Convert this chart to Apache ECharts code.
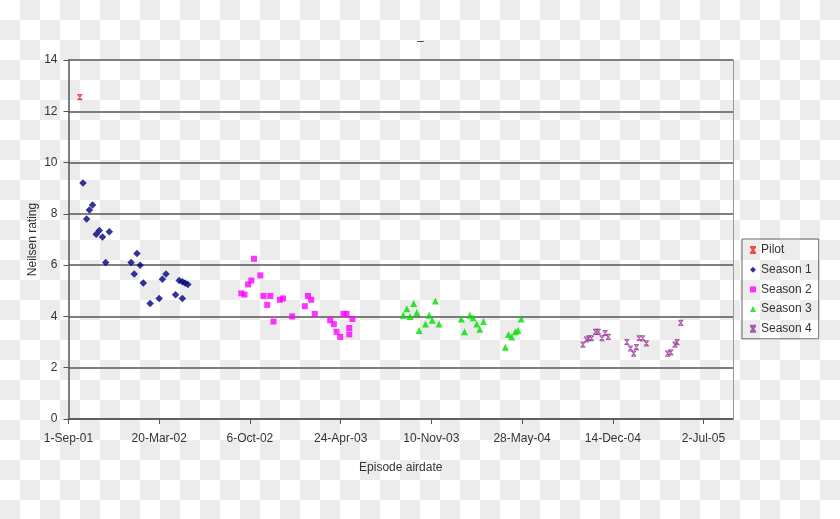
<!DOCTYPE html>
<html>
<head>
<meta charset="utf-8">
<script src="https://cdn.jsdelivr.net/npm/echarts@6/dist/echarts.min.js"></script>
<style>
  html, body { margin: 0; padding: 0; }
  body {
    width: 840px; height: 519px;
    background: repeating-conic-gradient(#ececec 0% 25%, #ffffff 0% 50%) 0 0 / 40px 40px;
  }
  #chart { width: 840px; height: 519px; }
</style>
</head>
<body>
<div id="chart"></div>
<script>
// ---- Data ----
const pilotDates = ['2001-09-26'];
const pilotRatings = [12.55];

const season1Dates = ['2001-10-03','2001-10-11','2001-10-17','2001-10-24','2001-11-01','2001-11-08','2001-11-15','2001-11-22','2001-11-30',
  '2002-01-17','2002-01-24','2002-01-30','2002-02-06','2002-02-13','2002-02-28','2002-03-20','2002-03-27','2002-04-04',
  '2002-04-25','2002-05-03','2002-05-10','2002-05-10','2002-05-16','2002-05-22'];
const season1Ratings = [9.2, 7.8, 8.15, 8.35, 7.2, 7.35, 7.1, 6.1, 7.3,
  6.1, 5.65, 6.45, 6.0, 5.3, 4.5, 4.7, 5.45, 5.65,
  4.85, 5.4, 4.7, 5.35, 5.3, 5.25];

const season2Dates = ['2002-09-17','2002-09-24','2002-10-02','2002-10-09','2002-10-15','2002-10-29','2002-11-05','2002-11-13','2002-11-20',
  '2002-11-27','2002-12-11','2002-12-18','2003-01-07','2003-02-04','2003-02-11','2003-02-18','2003-02-26','2003-04-01',
  '2003-04-09','2003-04-15','2003-04-23','2003-04-30','2003-05-07','2003-05-13','2003-05-13','2003-05-20'];
const season2Ratings = [4.9, 4.85, 5.25, 5.4, 6.25, 5.6, 4.8, 4.45, 4.8,
  3.8, 4.65, 4.7, 4.0, 4.4, 4.8, 4.65, 4.1, 3.85,
  3.7, 3.4, 3.2, 4.1, 4.1, 3.55, 3.3, 3.9];

const season3Dates = ['2003-09-09','2003-09-17','2003-09-24','2003-10-02','2003-10-09','2003-10-14','2003-10-28','2003-11-05','2003-11-12',
  '2003-11-19','2003-11-27','2004-01-15','2004-01-22','2004-02-03','2004-02-10','2004-02-18','2004-02-25','2004-03-04',
  '2004-04-21','2004-04-28','2004-05-05','2004-05-13','2004-05-19','2004-05-26'];
const season3Ratings = [4.05, 4.3, 4.0, 4.5, 4.15, 3.45, 3.7, 4.05, 3.85,
  4.6, 3.7, 3.9, 3.4, 4.05, 3.95, 3.7, 3.5, 3.8,
  2.8, 3.3, 3.2, 3.4, 3.45, 3.9];

const season4Dates = ['2004-10-09','2004-10-17','2004-10-22','2004-10-28','2004-11-06','2004-11-12','2004-11-20','2004-11-27','2004-12-04',
  '2005-01-14','2005-01-22','2005-01-29','2005-02-04','2005-02-10','2005-02-18','2005-02-26','2005-04-14','2005-04-21',
  '2005-04-30','2005-05-05','2005-05-13'];
const season4Ratings = [2.9, 3.1, 3.15, 3.15, 3.4, 3.4, 3.15, 3.35, 3.2,
  3.0, 2.75, 2.55, 2.8, 3.15, 3.15, 2.95, 2.55, 2.6,
  2.9, 3.0, 3.75];

const seriesNames = ['Pilot', 'Season 1', 'Season 2', 'Season 3', 'Season 4'];
const axisStartDate = '2001-09-01';
const axisEndDate = '2005-09-05';
const tickStepDays = 200;
const yTicks = [0, 2, 4, 6, 8, 10, 12, 14];

// ---- helpers ----
const DAY = 86400000;
function utc(s) { const p = s.split('-').map(Number); return Date.UTC(p[0], p[1] - 1, p[2]); }
const origin = utc(axisStartDate);
function dayOf(s) { return Math.round((utc(s) - origin) / DAY); }
const MONTHS = ['Jan','Feb','Mar','Apr','May','Jun','Jul','Aug','Sep','Oct','Nov','Dec'];
function fmt(v) {
  if (Math.round(v) % tickStepDays !== 0) return '';
  const d = new Date(origin + v * DAY);
  return d.getUTCDate() + '-' + MONTHS[d.getUTCMonth()] + '-' + String(d.getUTCFullYear()).slice(2);
}
function pts(dates, vals) { return dates.map((d, i) => [dayOf(d), vals[i]]); }

const xPath = 'path://M0,0 L10,0 M0,10 L10,10 M1,0 L9,10 M9,0 L1,10';

const chart = echarts.init(document.getElementById('chart'), null, { renderer: 'canvas' });
chart.setOption({
  backgroundColor: 'transparent',
  animation: false,
  textStyle: { fontFamily: 'Liberation Sans, Arial, sans-serif' },
  title: {
    text: '–', left: 412, top: 31,
    textStyle: { fontSize: 12, fontWeight: 'normal', color: '#333' }
  },
  grid: { left: 68.5, right: 107, top: 60, bottom: 100, containLabel: false },
  legend: {
    orient: 'vertical', left: 742, top: 239,
    padding: [4, 7, 3, 7],
    itemGap: 5.7, itemWidth: 6, itemHeight: 6,
    borderColor: '#666', borderWidth: 1,
    textStyle: { fontSize: 12, color: '#333', lineHeight: 14 },
    data: seriesNames
  },
  xAxis: {
    type: 'value', min: 0, max: dayOf(axisEndDate), interval: tickStepDays,
    name: 'Episode airdate', nameLocation: 'middle', nameGap: 43,
    nameTextStyle: { fontSize: 12, color: '#333' },
    axisLine: { show: true, onZero: false, lineStyle: { color: '#555', width: 1.5 } },
    axisTick: { show: true, length: 5, lineStyle: { color: '#555' } },
    axisLabel: { formatter: fmt, fontSize: 12, color: '#333', margin: 14, showMaxLabel: false },
    splitLine: { show: false }
  },
  yAxis: [{
    type: 'value', min: yTicks[0], max: yTicks[yTicks.length - 1], interval: 2,
    name: 'Neilsen rating', nameLocation: 'middle', nameGap: 30, nameMoveOverlap: false,
    nameTextStyle: { fontSize: 12, color: '#333' },
    axisLine: { show: true, lineStyle: { color: '#555', width: 1.5 } },
    axisTick: { show: true, length: 5, lineStyle: { color: '#555' } },
    axisLabel: { fontSize: 12, color: '#333', margin: 11 },
    splitLine: { show: true, lineStyle: { color: '#555', width: 1.5 } }
  }, {
    type: 'value', position: 'right', min: 0, max: 14, interval: 2,
    axisLine: { show: true, lineStyle: { color: '#999', width: 1 } },
    axisTick: { show: false }, axisLabel: { show: false }, splitLine: { show: false }
  }],
  series: [
    { name: 'Pilot', type: 'scatter', data: pts(pilotDates, pilotRatings),
      symbol: xPath, symbolSize: 5,
      itemStyle: { color: 'transparent', borderColor: '#ee2222', borderWidth: 1.2 } },
    { name: 'Season 1', type: 'scatter', data: pts(season1Dates, season1Ratings),
      symbol: 'diamond', symbolSize: 7.5, itemStyle: { color: '#000080' } },
    { name: 'Season 2', type: 'scatter', data: pts(season2Dates, season2Ratings),
      symbol: 'rect', symbolSize: 6, itemStyle: { color: '#ff00ff' } },
    { name: 'Season 3', type: 'scatter', data: pts(season3Dates, season3Ratings),
      symbol: 'triangle', symbolSize: 7, itemStyle: { color: '#00e000' } },
    { name: 'Season 4', type: 'scatter', data: pts(season4Dates, season4Ratings),
      symbol: xPath, symbolSize: 5,
      itemStyle: { color: 'transparent', borderColor: '#993399', borderWidth: 1.2 } }
  ]
});
</script>
</body>
</html>
